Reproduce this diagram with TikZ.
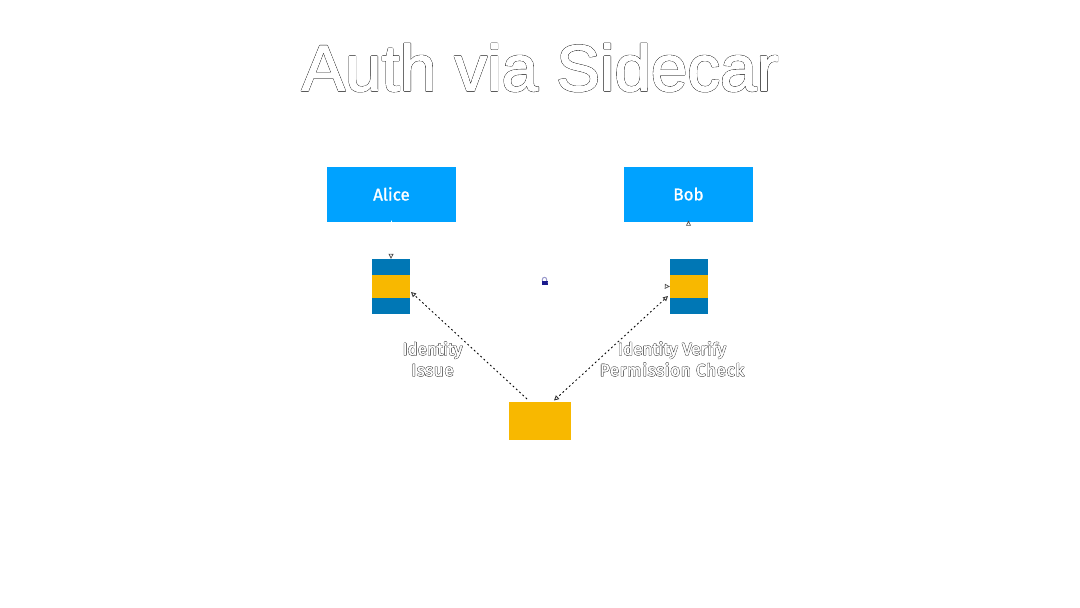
\documentclass[tikz,border=0pt]{standalone}
\usepackage{fontspec}
\setmainfont{Liberation Sans}
\newfontfamily\lblfont{Fira Sans}
\newfontfamily\lblwide[LetterSpace=4]{Fira Sans}
\usetikzlibrary{arrows.meta}
\definecolor{boxblue}{HTML}{00A2FF}
\definecolor{dkblue}{HTML}{0077B5}
\definecolor{gold}{HTML}{F8B800}
\definecolor{locknavy}{HTML}{1A1A8C}
\newcommand{\strokedark}[2]{\special{pdf: code q #1 w 1 j 0 0 0 RG 1 1 1 rg 2 Tr}#2\special{pdf: code 0 Tr Q}}
\newcommand{\strokewhite}[2]{\special{pdf: code q #1 w 1 j 1 1 1 RG 1 1 1 rg 2 Tr}#2\special{pdf: code 0 Tr Q}}
\tikzset{
  x=1pt,y=-1pt,
  person/.style={fill=boxblue,text=white,inner sep=0,minimum width=129pt,minimum height=55pt,font=\lblfont\fontsize{17}{20}\selectfont},
  scband/.style={fill=dkblue,inner sep=0,minimum width=38pt,minimum height=55pt},
  scmid/.style={fill=gold,inner sep=0,minimum width=38pt,minimum height=23pt},
  authbox/.style={fill=gold,inner sep=0,minimum width=62pt,minimum height=38pt},
  flow/.style={draw=black,line width=0.85pt,dash pattern=on 1.8pt off 2.6pt},
  hidden/.style={draw=white,line width=0.7pt,
    -{Triangle[open,length=5pt,width=5pt,fill=white,color=black!70]}},
  lbl/.style={align=center,inner sep=0,font=\lblfont\fontsize{17}{21}\selectfont},
  titlefont/.style={inner sep=0,font=\fontsize{65.5}{70}\selectfont},
}
\begin{document}
\begin{tikzpicture}[>={Triangle[open,length=5pt,width=5pt,fill=white,color=black!80]}]
\useasboundingbox (0,0) rectangle (1080,608);
\fill[white] (0,0) rectangle (1080,608);
\node[titlefont] (title0) at (540,67.5) {\strokedark{1.8}{Auth via Sidecar}};
\node[titlefont] (title) at (540,67.5) {\strokewhite{1.1}{Auth via Sidecar}};
\node[person] (alice) at (391.5,194) {\strokewhite{0.2}{Alice}};
\node[person] (bob) at (688.5,194) {\strokewhite{0.2}{Bob}};
\node[scband] (scl) at (391,286.5) {};
\node[scmid] (sclm) at (391,286.5) {};
\node[scband] (scr) at (689,286.5) {};
\node[scmid] (scrm) at (689,286.5) {};
\node[authbox] (auth) at (540,421) {};
% lock
\draw[locknavy!45,line width=1pt] (542.3,281) -- (542.3,279.6) .. controls (542.3,276.6) and (546.7,276.6) .. (546.7,279.6) -- (546.7,281);
\node[fill=locknavy,inner sep=0,minimum width=6pt,minimum height=4.6pt] (lock) at (544.5,282.8) {};
% connectors
\coordinate (a1) at (527,399);
\coordinate (a2) at (411,292);
\coordinate (b1) at (668,296);
\coordinate (b2) at (554,400.5);
\path[flow,->] (a1) -- (a2);
\path[flow,<->] (b1) -- (b2);
\path[hidden] ([yshift=1pt]alice.south) -- (scl.north);
\path[hidden] ([yshift=-4pt]bob.south) -- ([yshift=1pt]bob.south);
\path[hidden] (lock.east) -- (scrm.west);
\node[lbl] (l1b) at (432.5,359) {\strokedark{1.15}{Identity\\{\lblwide Issue}}};
\node[lbl] (l1) at (432.5,359) {\strokewhite{0.45}{Identity\\{\lblwide Issue}}};
\node[lbl] (l2b) at (672,359) {\strokedark{1.15}{Identity Verify\\{\lblwide Permission Check}}};
\node[lbl] (l2) at (672,359) {\strokewhite{0.45}{Identity Verify\\{\lblwide Permission Check}}};
\end{tikzpicture}
\end{document}
